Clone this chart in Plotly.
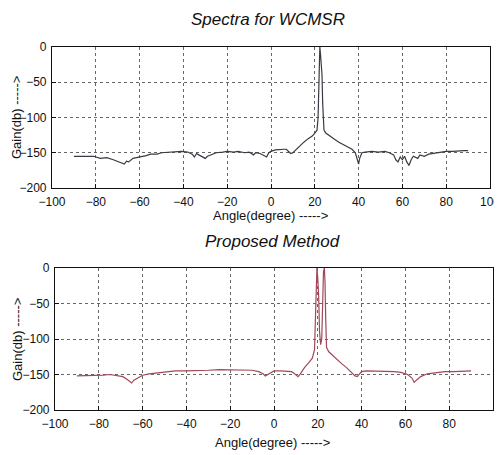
import plotly.graph_objects as go

# ---- data ----
wcmsr_angle = [-90, -87, -84, -81, -78, -75, -72, -70, -68, -67, -66, -65, -63, -61, -59, -57, -55, -52, -50,
               -47, -44, -41, -38, -36, -35, -34, -33, -31, -30, -29, -27, -25, -22, -20, -17, -15, -12, -10,
               -8, -7, -5, -3, -2, -1, 0, 2, 4, 6, 7, 8, 9, 10, 11, 13, 15, 17, 19, 20, 21, 21.5, 21.8, 22,
               22.3, 22.6, 23, 23.3, 23.6, 23.9, 24.2, 25, 27, 29, 31, 33, 35, 37, 38.5, 39.5, 40, 40.5, 41.5,
               43, 46, 49, 52, 54, 56, 57, 58, 59, 60, 61, 62, 63, 64, 65, 67, 68, 70, 72, 74, 76, 78, 80,
               83, 86, 88, 90]
wcmsr_gain = [-155, -155, -156, -155, -158, -157, -160, -162, -164, -166, -162, -163, -158, -157, -155, -154,
              -152, -152, -150, -149, -148, -148, -149, -152, -156, -151, -153, -156, -158, -155, -152, -150,
              -149, -148, -149, -148, -150, -149, -153, -150, -151, -154, -156, -150, -148, -146, -145, -145,
              -145, -148, -151, -150, -147, -140, -135, -130, -126, -122, -118, -100, -50, -5, 0, -10, -30,
              -40, -80, -110, -118, -122, -127, -131, -135, -138, -141, -145, -150, -160, -166, -158, -150,
              -149, -148, -149, -148, -150, -153, -160, -163, -156, -160, -155, -163, -168, -160, -155, -158,
              -153, -155, -152, -151, -150, -149, -148, -148, -147, -147, -147]

prop_angle = [-90, -87, -84, -81, -78, -75, -72, -69, -67, -66, -65, -64, -62, -60, -57, -54, -50, -45, -40,
              -35, -30, -25, -20, -15, -10, -7, -5, -4, -3, -1, 0, 3, 6, 8, 9, 10, 11, 12, 14, 16, 17.5, 18.5,
              19, 19.3, 19.6, 20, 20.4, 20.8, 21.3, 21.8, 22.2, 22.6, 23, 23.3, 23.6, 24, 25, 27, 29, 31, 33,
              35, 37, 38, 39, 40, 42, 46, 50, 55, 58, 61, 63, 64, 65, 67, 70, 74, 78, 82, 86, 90]
prop_gain = [-152, -152, -151, -152, -151, -150, -151, -153, -157, -160, -162, -158, -154, -151, -149, -148,
             -146, -145, -145, -145, -144, -143, -143, -143, -144, -146, -149, -152, -150, -146, -145, -145,
             -145, -146, -148, -151, -153, -149, -140, -133, -127, -115, -60, -10, 0, -15, -40, -90, -108,
             -100, -50, -5, 0, -20, -70, -112, -118, -124, -130, -135, -140, -146, -152, -153, -150, -146,
             -145, -145, -145, -146, -147, -150, -155, -161, -158, -153, -149, -147, -146, -146, -145, -145]

x_ticks = [-100, -80, -60, -40, -20, 0, 20, 40, 60, 80, 100]
y_ticks = [0, -50, -100, -150, -200]

# page offset from default body margin
OFF = 8
W, H = 502 - OFF, 455 - OFF


def fx(px):
    return (px - OFF) / W


def fy(py):
    return 1 - (py - OFF) / H


fig = go.Figure()
fig.add_trace(go.Scatter(x=wcmsr_angle, y=wcmsr_gain, mode="lines",
                         line=dict(color="#3a3a44", width=1.2), xaxis="x", yaxis="y"))
fig.add_trace(go.Scatter(x=prop_angle, y=prop_gain, mode="lines",
                         line=dict(color="#a04858", width=1.2), xaxis="x2", yaxis="y2"))

font_tick = dict(family="Liberation Sans, Arial, sans-serif", size=12, color="#111")
common_x = dict(range=[-100, 100], tickvals=x_ticks, ticks="inside", ticklen=4, tickcolor="#111",
                showline=True, linecolor="#111", linewidth=1.2, mirror=True,
                showgrid=True, gridcolor="#666", griddash="dot", gridwidth=1,
                zeroline=False, tickfont=font_tick, automargin=False, ticklabelstandoff=2)
common_y = dict(range=[-200, 0], tickvals=y_ticks, ticks="inside", ticklen=4, tickcolor="#111",
                showline=True, linecolor="#111", linewidth=1.2, mirror=True,
                showgrid=True, gridcolor="#666", griddash="dot", gridwidth=1,
                zeroline=False, tickfont=font_tick, automargin=False, ticklabelstandoff=2)

fig.update_layout(
    width=W, height=H, margin=dict(l=0, r=0, t=0, b=0, autoexpand=False),
    paper_bgcolor="white", plot_bgcolor="white", showlegend=False,
    xaxis=dict(domain=[fx(52), fx(490)], anchor="y", **common_x),
    yaxis=dict(domain=[fy(188), fy(47)], anchor="x", **common_y),
    xaxis2=dict(domain=[fx(55), fx(493)], anchor="y2", **common_x),
    yaxis2=dict(domain=[fy(410), fy(268)], anchor="x2", **common_y),
)


def ann(text, x, y, size=13, italic=False, angle=0):
    t = f"<i>{text}</i>" if italic else text
    fig.add_annotation(text=t, x=fx(x), y=fy(y), xref="paper", yref="paper",
                       showarrow=False, textangle=angle, xanchor="center", yanchor="middle",
                       font=dict(family="Liberation Sans, Arial, sans-serif", size=size, color="#111"))


ann("Spectra for WCMSR", 268, 20, size=17, italic=True)
ann("Angle(degree) ----->", 270, 216, size=13)
ann("Gain(db) ----->", 17, 118, size=13, angle=-90)
ann("Proposed Method", 272, 241, size=17, italic=True)
ann("Angle(degree) ----->", 272, 442, size=13)
ann("Gain(db) ----->", 17, 340, size=13, angle=-90)

fig.write_html("out.html")
